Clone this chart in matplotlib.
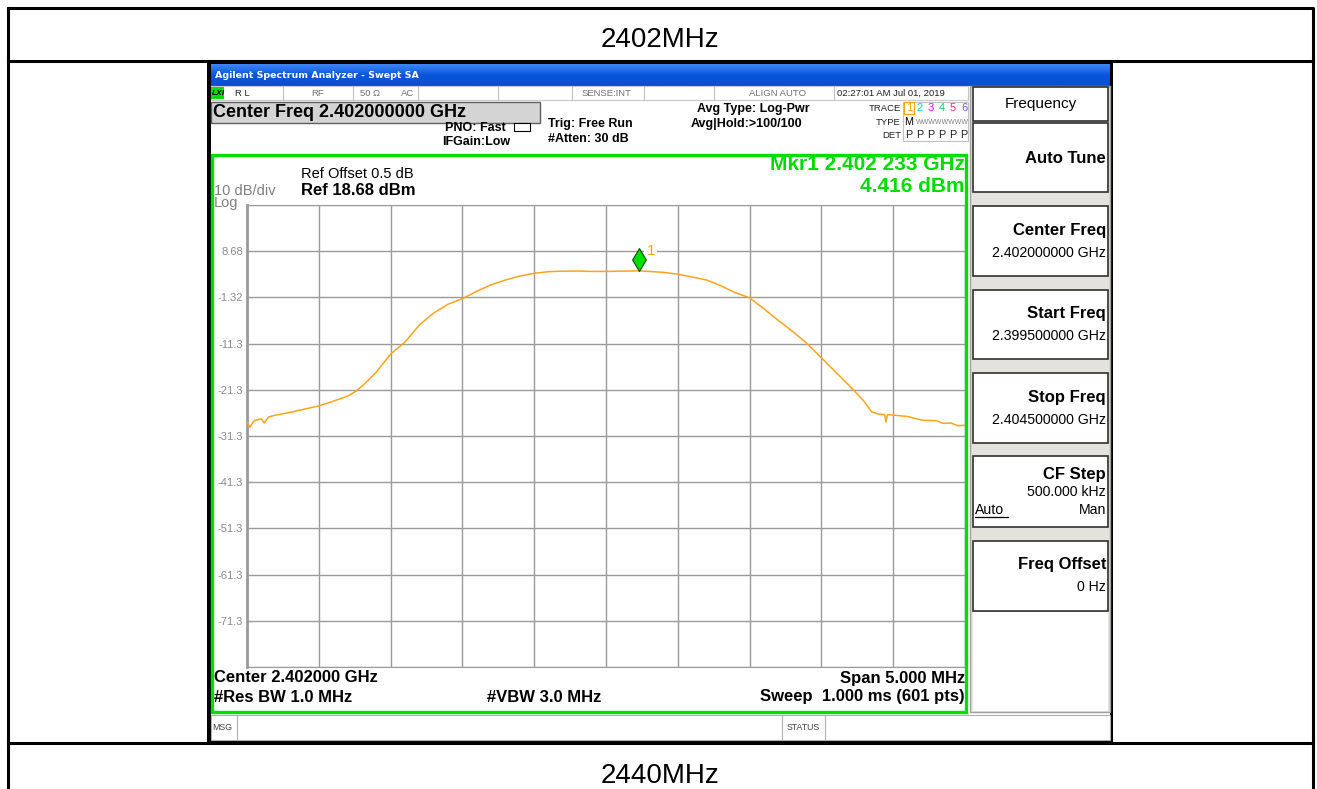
import matplotlib.pyplot as plt
from matplotlib.patches import Rectangle
import numpy as np

plt.rcParams['font.family'] = ['Liberation Sans', 'DejaVu Sans']

W, H = 1317, 789

# trace (MHz, dBm)
freq_mhz = [2399.50, 2399.52, 2399.55, 2399.60, 2399.62, 2399.65, 2399.70, 2399.80,
            2399.90, 2400.00, 2400.10, 2400.20, 2400.26, 2400.32, 2400.40, 2400.50,
            2400.60, 2400.70, 2400.80, 2400.90, 2401.00, 2401.10, 2401.20, 2401.30,
            2401.40, 2401.50, 2401.60, 2401.70, 2401.80, 2401.90, 2402.00, 2402.10,
            2402.233, 2402.30, 2402.40, 2402.50, 2402.60, 2402.70, 2402.80, 2402.90,
            2403.00, 2403.10, 2403.20, 2403.30, 2403.40, 2403.50, 2403.60, 2403.70,
            2403.80, 2403.85, 2403.90, 2403.94, 2403.95, 2403.96, 2404.00, 2404.10,
            2404.20, 2404.30, 2404.35, 2404.40, 2404.45, 2404.50]
level_dbm = [-28.3, -29.4, -28.0, -27.6, -28.5, -27.2, -26.8, -26.2,
             -25.5, -24.8, -23.8, -22.7, -21.6, -20.0, -17.5, -13.6,
             -11.0, -7.3, -4.7, -2.8, -1.6, 0.0, 1.4, 2.45,
             3.3, 3.9, 4.25, 4.35, 4.38, 4.3, 4.3, 4.36,
             4.416, 4.3, 4.1, 3.7, 3.1, 2.45, 1.2, -0.3,
             -1.4, -3.8, -6.3, -8.7, -11.3, -14.4, -17.5, -20.6,
             -23.9, -26.1, -26.6, -26.7, -28.3, -26.7, -26.8, -27.1,
             -27.9, -28.0, -28.6, -28.5, -29.1, -29.0]
mkr_freq, mkr_level = 2402.233, 4.416

ref_level = 18.68
ytick_vals = [ref_level - 10 * i for i in range(11)]
ytick_txt = ['', '8.68', '-1.32', '-11.3', '-21.3', '-31.3', '-41.3', '-51.3', '-61.3', '-71.3', '']
xtick_vals = [2399.5 + 0.5 * i for i in range(11)]

fig = plt.figure(figsize=(W / 100, H / 100), dpi=100)

# background axes in pixel units
bg = fig.add_axes([0, 0, 1, 1], zorder=0)
bg.set_xlim(0, W)
bg.set_ylim(H, 0)
bg.axis('off')


def rect(ax, x0, y0, x1, y1, **kw):
    ax.add_patch(Rectangle((x0, y0), x1 - x0, y1 - y0, **kw))


# table
tbl = dict(color='black', lw=2.2)
bg.plot([7.5, 1313, 1313, 7.5, 7.5], [8, 8, 800, 800, 8], **tbl)
bg.plot([7.5, 1313], [60.5, 60.5], **tbl)
bg.plot([7.5, 1313], [743, 743], **tbl)
bg.text(660, 40, '2402MHz', ha='center', va='center', fontsize=20)
bg.text(660, 776, '2440MHz', ha='center', va='center', fontsize=20)

# analyzer window
rect(bg, 207, 61, 1113, 743, facecolor='black', edgecolor='none')
rect(bg, 211, 86, 1110, 740, facecolor='white', edgecolor='none')
grad = np.linspace(0, 1, 30).reshape(-1, 1)
bg.imshow(grad, cmap=plt.matplotlib.colors.LinearSegmentedColormap.from_list(
    'tb', ['#3d86f5', '#0a55dc', '#0a4fd0']), extent=(211, 1110, 86, 64), aspect='auto', zorder=1)
bg.text(215, 75.5, 'Agilent Spectrum Analyzer - Swept SA', color='white', fontsize=6.8,
        fontweight='bold', va='center', family='DejaVu Sans', zorder=2)

# status row
rect(bg, 211, 86, 968, 100, facecolor='white', edgecolor='#c8c8c8', lw=0.8)
rect(bg, 211, 87, 224, 99, facecolor='#00e000', edgecolor='none')
bg.text(212, 93, 'LXI', fontsize=6, fontweight='bold', style='italic', va='center')
for sx in [283, 353, 418, 498, 572, 644, 714, 834]:
    bg.plot([sx, sx], [86, 100], color='#c0c0c0', lw=0.8)
st = dict(fontsize=6.8, color='#707070', va='center', ha='center')
bg.text(242, 93, 'R L', **dict(st, color='#202020'))
bg.text(318, 93, 'RF', **st)
bg.text(370, 93, '50 Ω', **st)
bg.text(408, 93, 'AC', **st)
bg.text(607, 93, 'SENSE:INT', **st)
bg.text(778, 93, 'ALIGN AUTO', **st)
bg.text(837, 93, '02:27:01 AM Jul 01, 2019', **dict(st, color='#202020', ha='left'))

# header
rect(bg, 211, 102, 540, 123, facecolor='#d4d4d4', edgecolor='#606060', lw=1)
bg.text(213, 112.5, 'Center Freq 2.402000000 GHz', fontsize=13, fontweight='bold', va='center')
hd = dict(fontsize=9, fontweight='bold', va='center')
bg.text(506, 128, 'PNO: Fast', ha='right', **hd)
bg.text(510, 142, 'IFGain:Low', ha='right', **hd)
rect(bg, 514, 123, 530, 131, facecolor='white', edgecolor='black', lw=0.8)
bg.text(548, 124, 'Trig: Free Run', **hd)
bg.text(548, 139, '#Atten: 30 dB', **hd)
bg.text(810, 109, 'Avg Type: Log-Pwr', ha='right', **hd)
bg.text(802, 124, 'Avg|Hold:>100/100', ha='right', **hd)
sm = dict(fontsize=6.8, va='center', ha='right', color='#202020')
bg.text(901, 108, 'TRACE', **sm)
bg.text(901, 122, 'TYPE', **sm)
bg.text(901, 135, 'DET', **sm)
rect(bg, 903, 102, 968, 141, facecolor='white', edgecolor='#c0c0c0', lw=0.8)
trace_cols = ['#ffa500', '#00d8d8', '#ff00ff', '#00e060', '#ff3070', '#8050ff']
for i, c in enumerate(trace_cols):
    bg.text(909 + i * 11, 108, str(i + 1), color=c, fontsize=8, ha='center', va='center')
    bg.text(909 + i * 11, 135, 'P', color='#202020', fontsize=7.8, ha='center', va='center')
rect(bg, 904, 102, 914, 114, facecolor='none', edgecolor='#ffa500', lw=0.8)
bg.text(909, 122, 'M', fontsize=7.8, ha='center', va='center')
bg.text(916, 122, 'WWWWWWWW', fontsize=5, color='#808080', va='center')

# softkey panel
rect(bg, 970, 86, 1110, 712, facecolor='#e4e2dc', edgecolor='#a0a0a0', lw=1)
keys = [(87, 121), (123, 192), (206, 276), (290, 359), (373, 443), (456, 527), (541, 611)]
for y0, y1 in keys:
    rect(bg, 973, y0, 1108, y1, facecolor='white', edgecolor='#303030', lw=1.2)
rect(bg, 973, 612, 1108, 711, facecolor='white', edgecolor='none')
bg.text(1041, 104, 'Frequency', fontsize=11, ha='center', va='center')
kb = dict(fontsize=12, fontweight='bold', ha='right', va='center')
kr = dict(fontsize=10.2, ha='right', va='center')
bg.text(1106, 158, 'Auto Tune', **kb)
bg.text(1106, 230, 'Center Freq', **kb)
bg.text(1106, 253, '2.402000000 GHz', **kr)
bg.text(1106, 313, 'Start Freq', **kb)
bg.text(1106, 336, '2.399500000 GHz', **kr)
bg.text(1106, 397, 'Stop Freq', **kb)
bg.text(1106, 420, '2.404500000 GHz', **kr)
bg.text(1106, 474, 'CF Step', **kb)
bg.text(1106, 492, '500.000 kHz', **kr)
bg.text(975, 510, 'Auto', fontsize=10.2, va='center')
bg.plot([975, 1008], [517, 517], color='black', lw=0.9)
bg.text(1106, 510, 'Man', **kr)
bg.text(1106, 565, 'Freq Offset', **kb)
bg.text(1106, 587, '0 Hz', **kr)

# message bar
rect(bg, 211, 715, 1110, 740, facecolor='white', edgecolor='#b0b0b0', lw=0.8)
bg.plot([237, 237], [715, 740], color='#b0b0b0', lw=0.8)
bg.plot([782, 782], [715, 740], color='#b0b0b0', lw=0.8)
bg.plot([825, 825], [715, 740], color='#b0b0b0', lw=0.8)
bg.text(212, 727, 'MSG', fontsize=6.3, color='#404040', va='center')
bg.text(803, 727, 'STATUS', fontsize=6.3, color='#404040', va='center', ha='center')

# screen annotations
bg.text(301, 174, 'Ref Offset 0.5 dB', fontsize=10.5, va='center')
bg.text(301, 190, 'Ref 18.68 dBm', fontsize=12, fontweight='bold', va='center')
bg.text(214, 191, '10 dB/div', fontsize=10.5, color='#808080', va='center')
bg.text(214, 203, 'Log', fontsize=10.5, color='#808080', va='center')
bg.text(965, 164, 'Mkr1 2.402 233 GHz', fontsize=15, fontweight='bold', color='#00dd00',
        ha='right', va='center')
bg.text(965, 186, '4.416 dBm', fontsize=15, fontweight='bold', color='#00dd00',
        ha='right', va='center')
bt = dict(fontsize=12, fontweight='bold', va='center')
bg.text(214, 678, 'Center 2.402000 GHz', **bt)
bg.text(214, 697, '#Res BW 1.0 MHz', **bt)
bg.text(487, 697, '#VBW 3.0 MHz', **bt)
bg.text(965, 678, 'Span 5.000 MHz', ha='right', **bt)
bg.text(965, 697, 'Sweep  1.000 ms (601 pts)', ha='right', **bt)

# trace graticule
ax = fig.add_axes([247 / W, 1 - 667 / H, 718 / W, 462 / H], zorder=1)
ax.set_xlim(xtick_vals[0], xtick_vals[-1])
ax.set_ylim(ytick_vals[-1], ytick_vals[0])
ax.set_xticks(xtick_vals)
ax.set_xticklabels([])
ax.set_yticks(ytick_vals)
ax.set_yticklabels(ytick_txt)
ax.tick_params(length=0, pad=3, labelsize=8, labelcolor='#8a8a8a')
ax.grid(True, color='#9a9a9a', lw=1)
for s in ax.spines.values():
    s.set_color('#9a9a9a')
ax.spines['left'].set_linewidth(2)
ax.plot(freq_mhz, level_dbm, color='#ffa41a', lw=1.1, zorder=3)
ax.annotate('1', (mkr_freq, mkr_level), xytext=(5, 14), textcoords='offset points',
            color='#ffa500', fontsize=11, va='center', ha='left',
            bbox=dict(facecolor='white', edgecolor='none', pad=1.5), zorder=4)
diamond = [(0, 0), (0.6, 1), (0, 2), (-0.6, 1), (0, 0)]
ax.plot([mkr_freq], [mkr_level], marker=diamond, markersize=33, color='#00dd00',
        markeredgecolor='#005000', markeredgewidth=0.8, clip_on=False, zorder=5)

# green screen frame on top
top = fig.add_axes([0, 0, 1, 1], zorder=2)
top.set_xlim(0, W)
top.set_ylim(H, 0)
top.axis('off')
top.patch.set_alpha(0)
rect(top, 212, 154.5, 966, 712, facecolor='none', edgecolor='#00e000', lw=2.4)

fig.savefig('out.png', dpi=100)
